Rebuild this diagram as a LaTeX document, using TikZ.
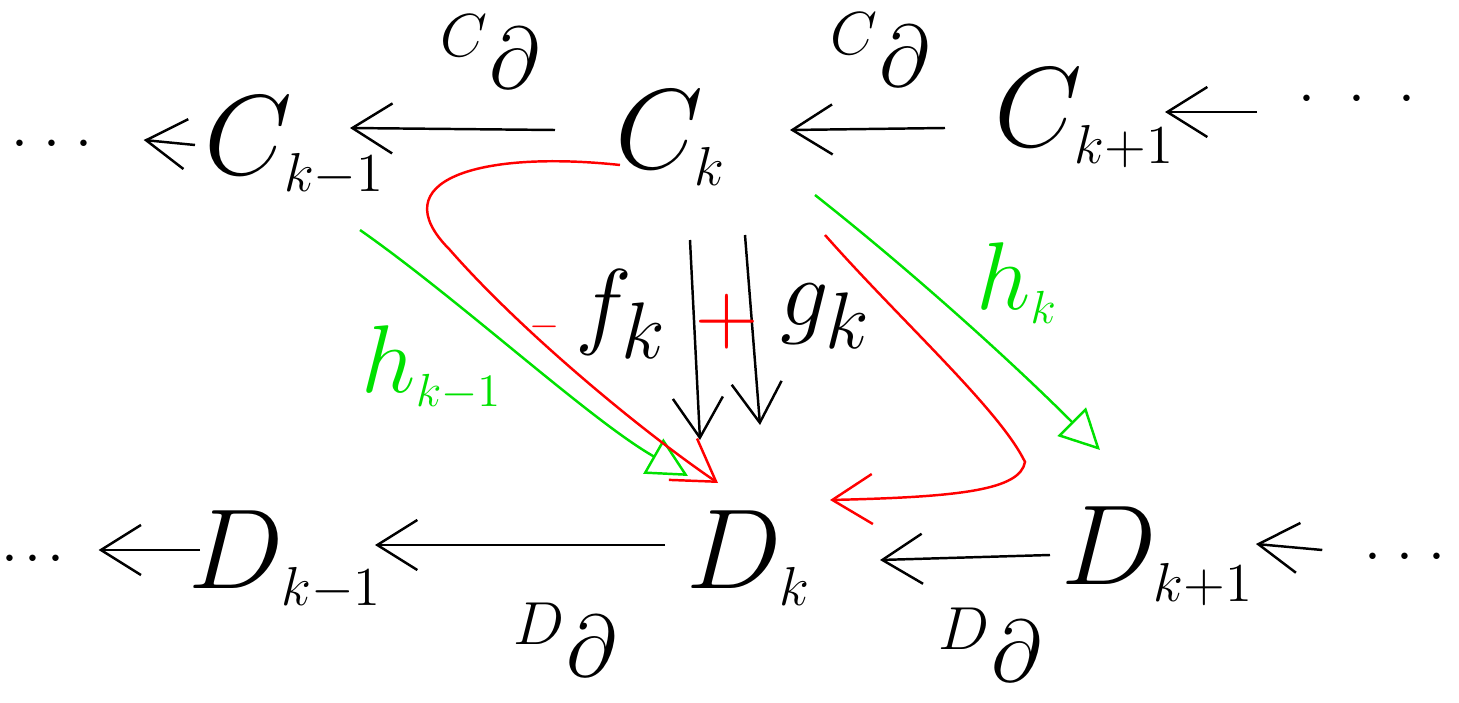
\documentclass[tikz,border=0pt]{standalone}
\usetikzlibrary{arrows.meta,calc}
\definecolor{hgreen}{RGB}{0,225,0}
\definecolor{hred}{RGB}{255,0,0}
\newcommand\mysub[1]{_{\mbox{\large$#1$}}}
\newcommand\mydots[1]{$\cdot$\hspace{#1}$\cdot$\hspace{#1}$\cdot$}
\begin{document}
\begin{tikzpicture}[x=0.01cm,y=-0.01cm,
  obj/.style={font=\Huge, scale=1.3, inner sep=1pt},
  dots/.style={font=\LARGE, inner sep=1pt},
  lab/.style={font=\Huge, scale=1.0, inner sep=1pt},
  maplab/.style={font=\Huge, scale=1.1, inner sep=1pt},
  arr/.style={line width=0.7pt, -{Straight Barb[length=4mm,width=5mm]}},
  harr/.style={draw=hgreen, line width=0.7pt, -{Triangle[open,length=4mm,width=4mm]}},
  hlab/.style={font=\Huge, scale=1.1, text=hgreen, inner sep=1pt},
  rarr/.style={draw=hred, line width=0.7pt, -{Straight Barb[length=4mm,width=5mm]}},
]
\useasboundingbox (0,0) rectangle (1459,703);
% objects
\node[obj] (Ckm) at (295,146) {$C\mysub{k{-}1}$};
\node[obj] (Ck)  at (671,138) {$C\mysub{k}$};
\node[obj] (Ckp) at (1085,118) {$C\mysub{k{+}1}$};
\node[obj] (Dkm) at (286,560) {$D\mysub{k{-}1}$};
\node[obj] (Dk)  at (749,558) {$D\mysub{k}$};
\node[obj] (Dkp) at (1158,556) {$D\mysub{k{+}1}$};
% dots
\node[dots] (dTL) at (52,145) {\mydots{0.25em}};
\node[dots] (dTR) at (1357,100) {\mydots{0.55em}};
\node[dots] (dBL) at (33,560) {\mydots{0.1em}};
\node[dots] (dBR) at (1405,558) {\mydots{0.25em}};
% top row
\draw[arr] ($(Ckm)+(-100,-1)$) -- ($(dTL.east)+(47,-5)$);
\draw[arr] ($(Ck)+(-116,-8)$) -- ($(Ckm)+(55,-18)$);
\draw[arr] ($(Ckp)+(-140,10)$) -- ($(Ck)+(119,-8)$);
\draw[arr] ($(dTR.west)+(-37,12)$) -- ($(Ckp)+(80,-6)$);
\node[lab] (dC1) at (490,52) {${}^{\scriptscriptstyle C}\partial$};
\node[lab] (dC2) at (880,50) {${}^{\scriptscriptstyle C}\partial$};
% bottom row
\draw[arr] ($(Dkm)+(-86,-10)$) -- ($(dBL.east)+(30,-10)$);
\draw[arr] ($(Dk)+(-84,-13)$) -- ($(Dkm)+(89,-15)$);
\draw[arr] ($(Dkp)+(-108,-1)$) -- ($(Dk)+(131,2)$);
\draw[arr] ($(dBR.west)+(-38,-8)$) -- ($(Dkp)+(98,-12)$);
\node[lab] (dD1) at (565,640) {${}^{\scriptscriptstyle D}\partial$};
\node[lab] (dD2) at (990,645) {${}^{\scriptscriptstyle D}\partial$};
% vertical maps
\draw[arr] ($(Ck)+(19,102)$) -- ($(Dk)+(-49,-118)$);
\draw[arr] ($(Ck)+(74,97)$) -- ($(Dk)+(11,-133)$);
\node[maplab, anchor=east] (fk) at (672,314) {\textcolor{hred}{\normalsize$-$}\,$f_k$};
\node[lab, text=hred] (plus) at (727,322) {$+$};
\node[maplab, anchor=west] (gk) at (776,316) {$g_k$};
% homotopies
\draw[harr] ($(Ckm)+(65,84)$) .. controls (460,300) and (590,420) .. ($(Dk)+(-61,-82)$);
\node[hlab] (hkm) at (432,368) {$h\mysub{k{-}1}$};
\draw[harr] ($(Ck)+(144,57)$) .. controls (910,270) and (1010,360) .. ($(Dkp)+(-58,-106)$);
\node[hlab] (hk) at (1017,283) {$h\mysub{k}$};
% composites
\draw[rarr] ($(Ck)+(-51,27)$) .. controls (480,150) and (380,180) .. (450,250) .. controls (520,330) and (640,430) .. ($(Dk)+(-31,-75)$);
\draw[rarr] ($(Ck)+(154,97)$) .. controls (900,320) and (1000,410) .. (1025,462) .. controls (1020,490) and (960,497) .. ($(Dk)+(81,-58)$);
\end{tikzpicture}
\end{document}
